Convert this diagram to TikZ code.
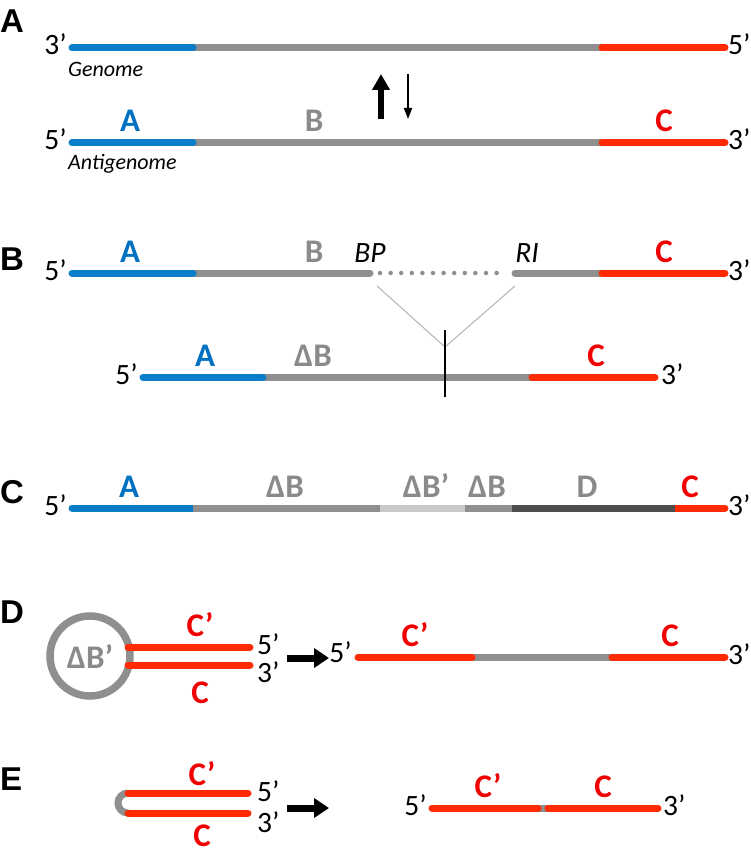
\documentclass[tikz,border=0pt]{standalone}
\usepackage{fontspec}
\setmainfont{Carlito}
\newfontfamily\panelfont{Liberation Sans}
\usetikzlibrary{arrows.meta}
\definecolor{segblue}{HTML}{0A7DC8}
\definecolor{seggray}{HTML}{8F8F8F}
\definecolor{segred}{HTML}{FF2A00}
\definecolor{seglight}{HTML}{C9C9C9}
\definecolor{segdark}{HTML}{4D4D4D}
\definecolor{labblue}{HTML}{0070C0}
\definecolor{labred}{HTML}{F00000}
\definecolor{labgray}{HTML}{8A8A8A}

\begin{document}
\begin{tikzpicture}[x=1pt, y=-1pt,
    seg/.style={line width=7pt, line cap=round},
    flat/.style={line width=7pt},
    prime/.style={font=\fontsize{29.5}{30}\selectfont, inner sep=0pt},
    lab/.style={font=\fontsize{33}{34}\selectfont\bfseries, inner sep=0pt, anchor=base},
    panel/.style={font=\panelfont\fontsize{33}{34}\selectfont\bfseries, inner sep=0pt, anchor=base west},
    strand/.style={font=\fontsize{22}{24}\selectfont\itshape, inner sep=0pt, anchor=base west},
    bigarrow/.style={-{Triangle[width=19pt,length=15pt]}, line width=7pt}
  ]
    \useasboundingbox (0,0) rectangle (750,853);

    % Panel A: genome and antigenome
    \node[panel] (pA) at (0,33) {A};
    \coordinate (g0) at (72,48);  \coordinate (g1) at (193,48);
    \coordinate (g2) at (602,48); \coordinate (g3) at (725,48);
    \draw[flat, seggray] (g1) -- (g2);
    \draw[seg, segblue] (g0) -- (g1);
    \draw[seg, segred] (g2) -- (g3);
    \node[prime, anchor=base east] (g3p) at (67,55) {3’};
    \node[prime, anchor=base west] (g5p) at (728,55) {5’};
    \node[strand] (gname) at (68,77) {Genome};

    \coordinate (a0) at (72,143);  \coordinate (a1) at (193,143);
    \coordinate (a2) at (602,143); \coordinate (a3) at (725,143);
    \draw[flat, seggray] (a1) -- (a2);
    \draw[seg, segblue] (a0) -- (a1);
    \draw[seg, segred] (a2) -- (a3);
    \node[prime, anchor=base east] (a5p) at (67,150) {5’};
    \node[prime, anchor=base west] (a3p) at (728,150) {3’};
    \node[strand] (aname) at (68,170) {Antigenome};
    \node[lab, text=labblue] (aA) at (130,132) {A};
    \node[lab, text=labgray] (aB) at (314,132) {B};
    \node[lab, text=labred] (aC) at (664,132) {C};

    % Arrows
    \coordinate (up0) at (381,119); \coordinate (up1) at (381,74);
    \coordinate (dn0) at (408,74);  \coordinate (dn1) at (408,119);
    \draw[-{Triangle[width=17pt,length=16pt]}, line width=5.5pt] (up0) -- (up1);
    \draw[-{Triangle[width=8pt,length=11pt]}, line width=1.8pt] (dn0) -- (dn1);

    % Panel B: deletion BP to RI
    \node[panel] (pB) at (0,270) {B};
    \coordinate (b0) at (72,273);  \coordinate (b1) at (193,273);
    \coordinate (b2) at (370,273); \coordinate (b3) at (515,273);
    \coordinate (b4) at (602,273); \coordinate (b5) at (725,273);
    \draw[seg, seggray] (b1) -- (b2);
    \draw[seg, seggray] (b3) -- (b4);
    \draw[seg, segblue] (b0) -- (b1);
    \draw[seg, segred] (b4) -- (b5);
    \draw[seggray, line width=4.5pt, line cap=round, dash pattern=on 0pt off 10.6pt]
      ([xshift=10pt]b2) -- ([xshift=-8pt]b3);
    \node[prime, anchor=base east] (b5p) at (67,280) {5’};
    \node[prime, anchor=base west] (b3p) at (728,280) {3’};
    \node[lab, text=labblue] (bA) at (130,262) {A};
    \node[lab, text=labgray] (bB) at (314,262) {B};
    \node[lab, text=labred] (bC) at (664,262) {C};
    \node[prime, anchor=base] (bBP) at (370,262) {\itshape BP};
    \node[prime, anchor=base] (bRI) at (527,262) {\itshape RI};

    \coordinate (bpx) at (377,286); \coordinate (rix) at (515,286);
    \coordinate (junc) at (445,347);
    \draw[black!30, line width=1pt] (bpx) -- (junc) -- (rix);
    \coordinate (cut0) at (445,330); \coordinate (cut1) at (445,397);

    \coordinate (c0) at (143,377); \coordinate (c1) at (263,377);
    \coordinate (c2) at (532,377); \coordinate (c3) at (655,377);
    \draw[flat, seggray] (c1) -- (c2);
    \draw[seg, segblue] (c0) -- (c1);
    \draw[seg, segred] (c2) -- (c3);
    \draw[line width=2.5pt] (cut0) -- (cut1);
    \node[prime, anchor=base east] (c5p) at (138,384) {5’};
    \node[prime, anchor=base west] (c3p) at (661,384) {3’};
    \node[lab, text=labblue] (cA) at (205,366) {A};
    \node[lab, text=labgray] (cB) at (313,366) {ΔB};
    \node[lab, text=labred] (cC) at (596,366) {C};

    % Panel C: rearranged genome
    \node[panel] (pC) at (0,503) {C};
    \coordinate (d0) at (72,508);  \coordinate (d1) at (193,508);
    \coordinate (d2) at (380,508); \coordinate (d3) at (465,508);
    \coordinate (d4) at (512,508); \coordinate (d5) at (675,508);
    \coordinate (d6) at (725,508);
    \draw[seg, segblue] (d0) -- (d1);
    \draw[seg, segred] (d5) -- (d6);
    \draw[flat, seggray] (d1) -- (d2);
    \draw[flat, seglight] (d2) -- (d3);
    \draw[flat, seggray] (d3) -- (d4);
    \draw[flat, segdark] (d4) -- (d5);
    \node[prime, anchor=base east] (d5p) at (67,515) {5’};
    \node[prime, anchor=base west] (d3p) at (728,515) {3’};
    \node[lab, text=labblue] (dA) at (129,497) {A};
    \node[lab, text=labgray] (dB) at (285,497) {ΔB};
    \node[lab, text=labgray] (dBp) at (426,497) {ΔB’};
    \node[lab, text=labgray] (dB2) at (487,497) {ΔB};
    \node[lab, text=labgray] (dD) at (587,497) {D};
    \node[lab, text=labred] (dC) at (690,497) {C};

    % Panel D: panhandle with loop
    \node[panel] (pD) at (0,623) {D};
    \node[circle, draw=seggray, line width=7.5pt, minimum size=80pt, inner sep=0pt,
      font=\fontsize{33}{34}\selectfont\bfseries, text=labgray] (loop) at (90,656) {ΔB’};
    \coordinate (e0) at (128,647); \coordinate (e1) at (250,647);
    \coordinate (e2) at (128,665); \coordinate (e3) at (250,665);
    \draw[seg, segred] (e0) -- (e1);
    \draw[seg, segred] (e2) -- (e3);
    \node[lab, text=labred] (eCp) at (200,636) {C’};
    \node[lab, text=labred] (eC) at (200,703) {C};
    \node[prime, anchor=base west] (e5p) at (257,654) {5’};
    \node[prime, anchor=base west] (e3p) at (257,682) {3’};
    \coordinate (ar0) at (287,658); \coordinate (ar1) at (329,658);
    \draw[bigarrow] (ar0) -- (ar1);

    \coordinate (f0) at (358,657); \coordinate (f1) at (472,657);
    \coordinate (f2) at (612,657); \coordinate (f3) at (725,657);
    \draw[flat, seggray] (f1) -- (f2);
    \draw[seg, segred] (f0) -- (f1);
    \draw[seg, segred] (f2) -- (f3);
    \node[prime, anchor=base east] (f5p) at (352,662) {5’};
    \node[prime, anchor=base west] (f3p) at (728,664) {3’};
    \node[lab, text=labred] (fCp) at (415,646) {C’};
    \node[lab, text=labred] (fC) at (670,646) {C};

    % Panel E: hairpin
    \node[panel] (pE) at (0,790) {E};
    \coordinate (h0) at (128,793); \coordinate (h1) at (248,793);
    \coordinate (h2) at (128,813); \coordinate (h3) at (248,813);
    \draw[seggray, line width=7pt] (h0) arc[start angle=90, end angle=270, radius=10pt];
    \draw[seg, segred] (h0) -- (h1);
    \draw[seg, segred] (h2) -- (h3);
    \node[lab, text=labred] (hCp) at (202,785) {C’};
    \node[lab, text=labred] (hC) at (202,846) {C};
    \node[prime, anchor=base west] (h5p) at (257,801) {5’};
    \node[prime, anchor=base west] (h3p) at (257,832) {3’};
    \coordinate (br0) at (287,808); \coordinate (br1) at (329,808);
    \draw[bigarrow] (br0) -- (br1);

    \coordinate (k0) at (432,808); \coordinate (k1) at (538,808);
    \coordinate (k2) at (548,808); \coordinate (k3) at (658,808);
    \draw[flat, seggray] (k1) -- (k2);
    \draw[seg, segred] (k0) -- (k1);
    \draw[seg, segred] (k2) -- (k3);
    \node[prime, anchor=base east] (k5p) at (427,815) {5’};
    \node[prime, anchor=base west] (k3p) at (663,815) {3’};
    \node[lab, text=labred] (kCp) at (488,797) {C’};
    \node[lab, text=labred] (kC) at (603,797) {C};
  \end{tikzpicture}
\end{document}
